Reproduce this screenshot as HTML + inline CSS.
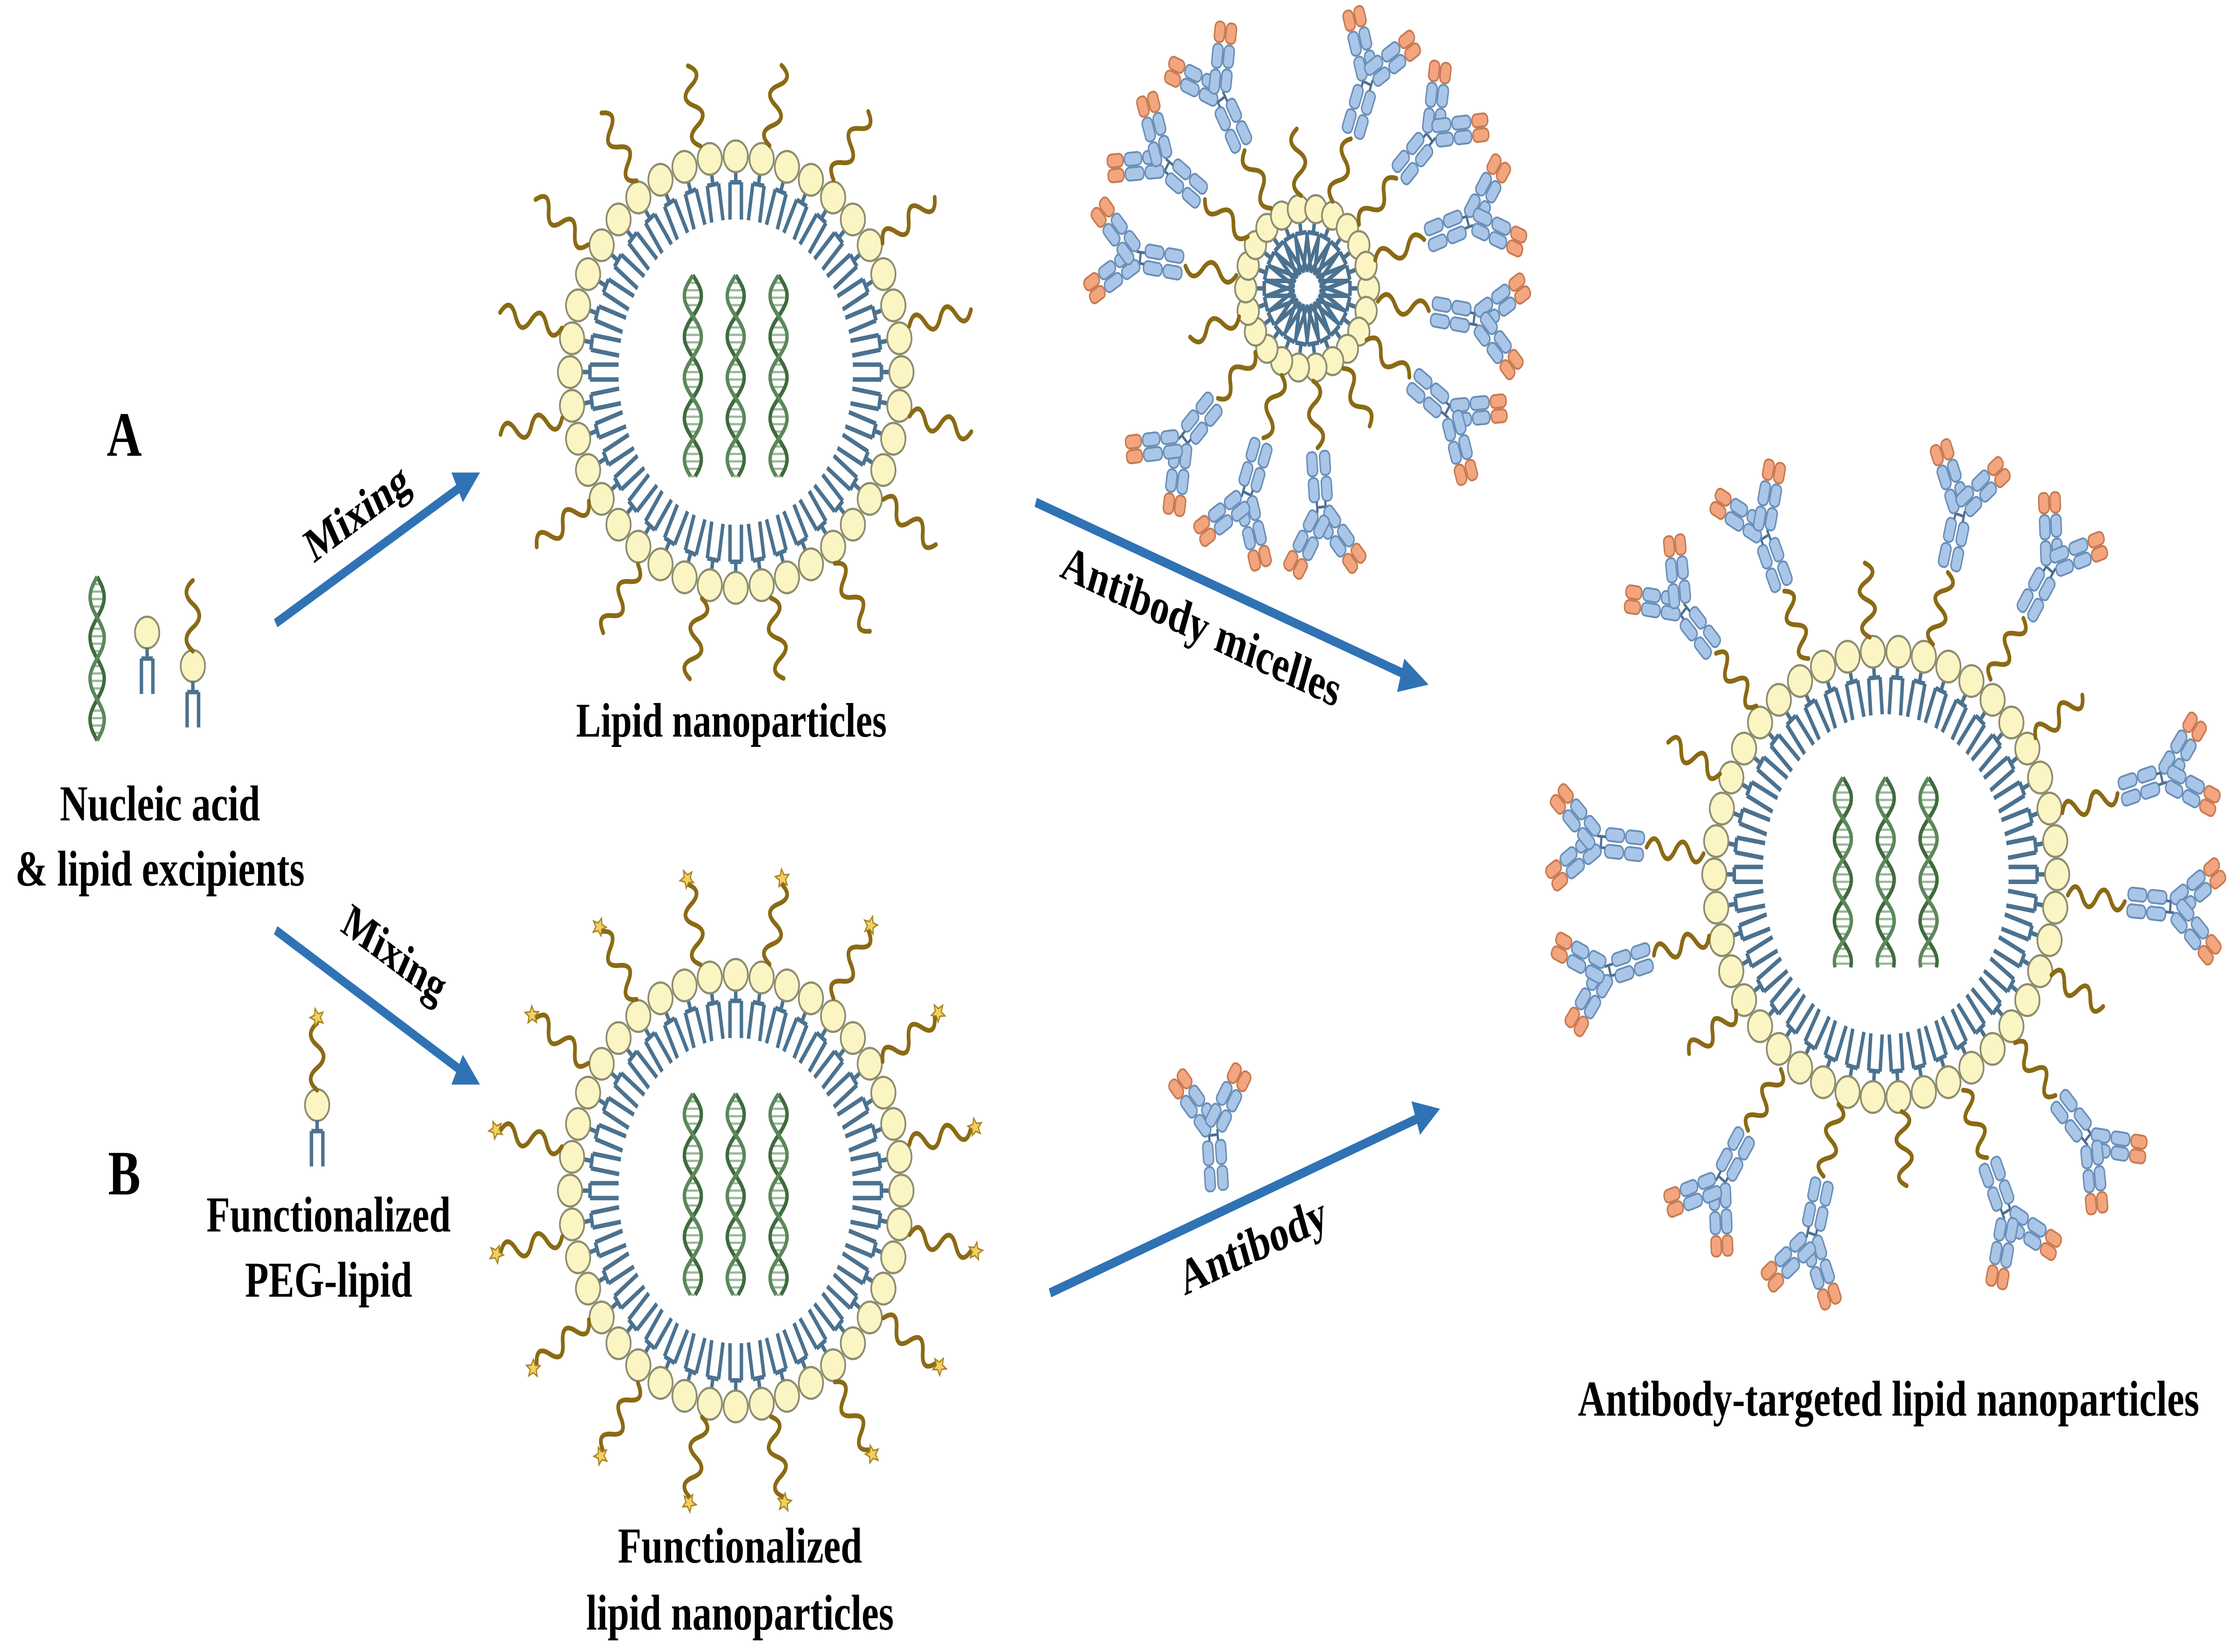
<!DOCTYPE html>
<html><head><meta charset="utf-8">
<style>
html,body{margin:0;padding:0;background:#fff;width:100vw;height:100vh;overflow:hidden;}
svg{display:block;position:absolute;left:0;top:0;width:100vw;height:100vh;}
text{font-family:"Liberation Serif",serif;font-weight:bold;fill:#000;}
</style></head>
<body>
<svg id="g" xmlns="http://www.w3.org/2000/svg" viewBox="0 0 1568 888" preserveAspectRatio="none">
<rect width="1568" height="888" fill="#fff"/>
<g id="shapes"></g>
<g stroke="#2f73b5" stroke-width="5" fill="#2f73b5">
<line x1="193" y1="335" x2="322" y2="262"/>
<polygon points="336,254 316,254 324,270" stroke="none"/>
<line x1="193" y1="500" x2="322" y2="575"/>
<polygon points="336,583 324,567 316,583" stroke="none"/>
<line x1="725" y1="270" x2="985" y2="363"/>
<polygon points="1000,368 983,354 978,372" stroke="none"/>
<line x1="735" y1="695" x2="993" y2="601"/>
<polygon points="1008,596 988,592 994,610" stroke="none"/>
</g>
<text x="87" y="245" font-size="34" text-anchor="middle">A</text>
<text x="87" y="642" font-size="34" text-anchor="middle">B</text>
<text x="0" y="0" font-size="26" text-anchor="middle" transform="translate(254,283) rotate(-30)">Mixing</text>
<text x="0" y="0" font-size="26" text-anchor="middle" transform="translate(272,520) rotate(30)">Mixing</text>
<text x="0" y="0" font-size="27" text-anchor="middle" transform="translate(838,345) rotate(20)">Antibody micelles</text>
<text x="0" y="0" font-size="27" text-anchor="middle" transform="translate(880,678) rotate(-20)">Antibody</text>
<text x="512" y="396" font-size="26" text-anchor="middle">Lipid nanoparticles</text>
<text x="112" y="441" font-size="27" text-anchor="middle">Nucleic acid</text>
<text x="112" y="476" font-size="27" text-anchor="middle">&amp; lipid excipients</text>
<text x="230" y="662" font-size="27" text-anchor="middle">Functionalized</text>
<text x="230" y="697" font-size="27" text-anchor="middle">PEG-lipid</text>
<text x="518" y="840" font-size="27" text-anchor="middle">Functionalized</text>
<text x="518" y="876" font-size="27" text-anchor="middle">lipid nanoparticles</text>
<text x="1322" y="761" font-size="27" text-anchor="middle">Antibody-targeted lipid nanoparticles</text>
</svg>
<script>
const NS='http://www.w3.org/2000/svg';
const root=document.getElementById('shapes');
function el(tag,a,p){const e=document.createElementNS(NS,tag);for(const k in a)e.setAttribute(k,a[k]);(p||root).appendChild(e);return e;}
function grp(cx,cy,deg,p){return el('g',{transform:`translate(${cx},${cy}) rotate(${deg})`},p);}
function wave(g,x0,len,amp){const n=Math.max(2,Math.round(len/11));const s=len/n;let d=`M${x0},0 q${s/2},${-amp*2} ${s},0`;for(let i=1;i<n;i++)d+=` t${s},0`;el('path',{d,fill:'none',stroke:'#8b6a14','stroke-width':2.6,'stroke-linecap':'round'},g);}
function tail(g,x,len){el('path',{d:`M${x},0 H${x-6} M${x-6},-4 V4 M${x-6},-4 H${x-len} M${x-6},4 H${x-len}`,fill:'none',stroke:'#4b7290','stroke-width':2.4},g);}
function head(g,x,r){el('circle',{cx:x,cy:0,r,fill:'#fbf5c3',stroke:'#8d8d70','stroke-width':1.2},g);}
function star(g,x,y,r){let pts=[];for(let i=0;i<10;i++){const rr=i%2?r*0.45:r;const a=Math.PI/5*i-Math.PI/2;pts.push((x+rr*Math.cos(a)).toFixed(1)+','+(y+rr*Math.sin(a)).toFixed(1));}el('polygon',{points:pts.join(' '),fill:'#f3cf62',stroke:'#a88420','stroke-width':0.8},g);}
function helix(x,y0,y1,amp){let a='',b='',r='';for(let y=y0;y<=y1;y+=2){const t=(y-y0)/7;const s=Math.sin(t)*amp;a+=(y==y0?'M':'L')+(x+s).toFixed(1)+','+y+' ';b+=(y==y0?'M':'L')+(x-s).toFixed(1)+','+y+' ';if((y-y0)%4==0)r+=`M${(x-Math.abs(s)).toFixed(1)},${y} H${(x+Math.abs(s)).toFixed(1)} `;}
el('path',{d:r,stroke:'#9bb89a','stroke-width':1.2,fill:'none'});el('path',{d:a,stroke:'#3f6b3f','stroke-width':2.4,fill:'none'});el('path',{d:b,stroke:'#5b875a','stroke-width':2.4,fill:'none'});}
function rr(g,x,y,w,h,c){el('rect',{x,y,width:w,height:h,rx:3,fill:c?'#f2a57e':'#a9c6e8',stroke:c?'#c77a50':'#6a8fb8','stroke-width':1},g);}
function antibody(g){
 rr(g,0,-8,13,7);rr(g,14,-8,13,7);rr(g,0,1,13,7);rr(g,14,1,13,7);
 el('path',{d:'M27,-3 H33 M27,3 H33 M30,-3 V3',stroke:'#4b6f95','stroke-width':1.5,fill:'none'},g);
 [-38,38].forEach(a=>{const h=el('g',{transform:`translate(33,0) rotate(${a})`},g);
  rr(h,0,-7.5,13,7);rr(h,14,-7.5,13,7);rr(h,28,-7.5,11,7,1);
  rr(h,2,0.5,12,7);rr(h,15,0.5,12,7);rr(h,28,0.5,11,7,1);});
}
function lnp(cx,cy,R,nHeads,tailLen,pegs,pegLen,opt){
 opt=opt||{};
 for(let i=0;i<nHeads;i++){const d=360/nHeads*i;const g=grp(cx,cy,d);tail(g,R-8,tailLen);head(g,R,8.5);}
 pegs.forEach((d,i)=>{const g=grp(cx,cy,d);wave(g,R+8,pegLen,5);
  if(opt.star)star(g,R+8+pegLen+3,0,5);
  if(opt.ab&&opt.ab[i])antibody(grp(R+8+pegLen+2,0,0,g));});
}
function range(n,off){let a=[];for(let i=0;i<n;i++)a.push(off+360/n*i);return a;}
lnp(515,200,116,40,26,range(16,11),44);
[485,515,545].forEach(x=>helix(x,148,256,6));
lnp(515,640,116,40,26,range(16,11),44,{star:true});
[485,515,545].forEach(x=>helix(x,588,696,6));
const fp=range(18,5);
const ab=fp.map((d,i)=>i%3!=1);
lnp(1320,470,120,42,26,fp,40,{ab});
[1290,1320,1350].forEach(x=>helix(x,418,520,6));
(function(){const cx=915,cy=155,R=43;for(let i=0;i<22;i++){const g=grp(cx,cy,360/22*i);tail(g,R-7,28);head(g,R,7.5);}
 range(14,8).forEach((d,i)=>{const g=grp(cx,cy,d);wave(g,R+7,36,4.5);if(i%4!=2)antibody(grp(R+7+38,0,0,g));});})();
helix(68,310,398,5);
(function(){let g=grp(103,340,-90);head(g,0,8.5);tail(g,-8,25);
 g=grp(135,358,-90);head(g,0,8.5);tail(g,-8,25);wave(g,8,38,4.5);
 g=grp(222,594,-90);head(g,0,8.5);tail(g,-8,25);wave(g,8,36,4.5);star(g,47,0,5);})();
antibody(grp(852,640,-95));
</script>
</body></html>
